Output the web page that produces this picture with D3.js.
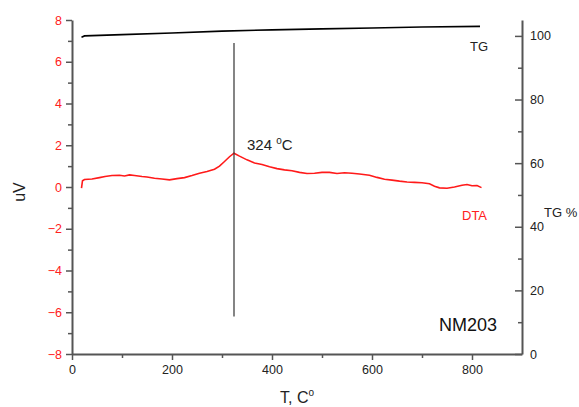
<!DOCTYPE html>
<html>
<head>
<meta charset="utf-8">
<script src="https://cdn.jsdelivr.net/npm/d3@7"></script>
<style>
  body { margin: 0; background: #fff; }
  svg text { font-family: "Liberation Sans", Arial, sans-serif; }
</style>
</head>
<body>
<svg id="chart" width="579" height="407"></svg>
<script>
// DTA curve (temperature C, uV)
var dtaT = [19, 21, 25, 40, 55, 66, 80, 95, 105, 115, 125, 140, 150, 165, 180, 195,
    210, 225, 240, 255, 270, 285, 295, 305, 315, 324, 335, 350, 365, 380, 395, 410,
    425, 440, 455, 470, 485, 500, 515, 530, 545, 560, 575, 595, 610, 625, 640, 655,
    670, 685, 700, 715, 725, 735, 750, 765, 780, 790, 800, 810, 819];
var dtaV = [-0.05, 0.3, 0.36, 0.38, 0.45, 0.5, 0.55, 0.56, 0.53, 0.58, 0.55, 0.5, 0.48,
    0.42, 0.38, 0.34, 0.4, 0.45, 0.55, 0.66, 0.74, 0.85, 1.0, 1.22, 1.45, 1.62, 1.48,
    1.3, 1.15, 1.08, 0.97, 0.88, 0.82, 0.78, 0.7, 0.65, 0.66, 0.7, 0.7, 0.65, 0.68,
    0.66, 0.62, 0.56, 0.46, 0.37, 0.33, 0.28, 0.24, 0.22, 0.2, 0.16, 0.04, -0.04,
    -0.06, 0, 0.08, 0.12, 0.06, 0.07, -0.03];

// TG curve (temperature C, %)
var tgT = [19, 25, 100, 200, 300, 400, 500, 600, 700, 816];
var tgV = [99.6, 100.0, 100.4, 100.9, 101.5, 101.9, 102.2, 102.5, 102.8, 103.0];

// peak marker
var peakT = 324;
var peakSpan = [-6.2, 6.9];

var xTicks = [0, 200, 400, 600, 800];
var yTicks = [-8, -6, -4, -2, 0, 2, 4, 6, 8];
var y2Ticks = [0, 20, 40, 60, 80, 100];

var svg = d3.select("#chart");
var plotLeft = 72, plotRight = 522, plotTop = 20, plotBottom = 354;

var x = d3.scaleLinear().domain([0, 900]).range([plotLeft, plotRight]);
var y = d3.scaleLinear().domain([-8, 8]).range([plotBottom, plotTop]);
var y2 = d3.scaleLinear().domain([0, 105]).range([plotBottom, plotTop]);

var axisColor = "#555";

// minor ticks first, then majors
svg.append("g").attr("transform", "translate(0," + plotBottom + ")")
    .call(d3.axisBottom(x).tickValues(d3.range(100, 900, 200)).tickSize(4).tickFormat(""))
    .call(function(g) { g.select(".domain").remove(); });
svg.append("g").attr("transform", "translate(" + plotLeft + ",0)")
    .call(d3.axisLeft(y).tickValues(d3.range(-7, 8, 2)).tickSize(4).tickFormat(""))
    .call(function(g) { g.select(".domain").remove(); });
svg.append("g").attr("transform", "translate(" + plotRight + ",0)")
    .call(d3.axisLeft(y2).tickValues([10, 30, 50, 70, 90]).tickSize(4).tickFormat(""))
    .call(function(g) { g.select(".domain").remove(); });

var gx = svg.append("g").attr("transform", "translate(0," + plotBottom + ")")
    .call(d3.axisBottom(x).tickValues(xTicks).tickSize(6).tickPadding(5).tickSizeOuter(0));
var gy = svg.append("g").attr("transform", "translate(" + plotLeft + ",0)")
    .call(d3.axisLeft(y).tickValues(yTicks).tickSize(6).tickPadding(4).tickSizeOuter(0));
var gy2 = svg.append("g").attr("transform", "translate(" + plotRight + ",0)")
    .call(d3.axisRight(y2).tickValues(y2Ticks).tickSize(0).tickPadding(8).tickSizeOuter(0));
// right axis majors point inward
svg.append("g").attr("transform", "translate(" + plotRight + ",0)")
    .call(d3.axisLeft(y2).tickValues(y2Ticks).tickSize(7).tickFormat(""))
    .call(function(g) { g.select(".domain").remove(); });

svg.selectAll(".domain, .tick line").attr("stroke", axisColor).attr("stroke-width", 1.5);
svg.selectAll(".domain").attr("stroke-width", 2);
svg.selectAll(".tick text").attr("font-size", 12.5).attr("fill", "#222");
gy.selectAll(".tick text").attr("fill", "#ff2020");

// TG line
var tgLine = d3.line().x(function(d, i) { return x(tgT[i]); })
    .y(function(d) { return y2(d); });
svg.append("path").datum(tgV).attr("d", tgLine)
    .attr("fill", "none").attr("stroke", "#000").attr("stroke-width", 1.6);

// DTA line
var dtaLine = d3.line().x(function(d, i) { return x(dtaT[i]); })
    .y(function(d) { return y(d); });
svg.append("path").datum(dtaV).attr("d", dtaLine)
    .attr("fill", "none").attr("stroke", "#ff1a1a").attr("stroke-width", 1.6);

// peak marker line
svg.append("line")
    .attr("x1", x(peakT)).attr("x2", x(peakT))
    .attr("y1", y(peakSpan[0])).attr("y2", y(peakSpan[1]))
    .attr("stroke", "#333").attr("stroke-width", 1.2);

// labels
var pk = svg.append("text").attr("x", 247).attr("y", 150).attr("font-size", 15).attr("fill", "#222");
pk.append("tspan").text("324 ");
pk.append("tspan").attr("font-size", 10).attr("dy", -6).text("o");
pk.append("tspan").attr("dy", 6).text("C");
svg.append("text").attr("x", 470).attr("y", 51).attr("font-size", 13).attr("fill", "#222").text("TG");
svg.append("text").attr("x", 462).attr("y", 220).attr("font-size", 13).attr("fill", "#ff2020").text("DTA");
svg.append("text").attr("x", 544).attr("y", 217).attr("font-size", 13).attr("fill", "#222").text("TG %");
svg.append("text").attr("x", 439).attr("y", 331).attr("font-size", 18).attr("fill", "#111").text("NM203");
svg.append("text").attr("transform", "translate(25,192) rotate(-90)")
    .attr("text-anchor", "middle").attr("font-size", 16).attr("fill", "#222").text("uV");
var xl = svg.append("text").attr("x", 280).attr("y", 403).attr("font-size", 16).attr("fill", "#222").text("T, C");
xl.append("tspan").attr("font-size", 10).attr("dy", -7).text("o");
</script>
</body>
</html>
